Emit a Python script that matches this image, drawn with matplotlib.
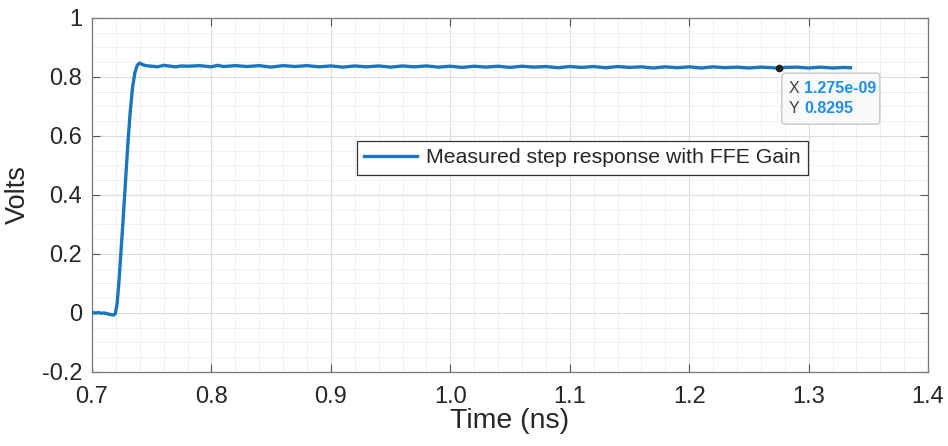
import numpy as np
import matplotlib
matplotlib.use('Agg')
import matplotlib.pyplot as plt
import matplotlib.transforms as mtransforms
from matplotlib.patches import FancyBboxPatch
from matplotlib.ticker import MultipleLocator

# measured step response (time in ns, volts)
t_rise = [0.700, 0.703, 0.706, 0.708, 0.710, 0.712, 0.714, 0.716, 0.718, 0.7195,
          0.721, 0.7225, 0.724, 0.726, 0.728, 0.730, 0.732, 0.734, 0.736, 0.738,
          0.740, 0.742, 0.745]
v_rise = [0.001, 0.000, 0.001, -0.001, 0.000, -0.002, -0.004, -0.006, -0.007, -0.003,
          0.030, 0.100, 0.190, 0.310, 0.440, 0.570, 0.680, 0.765, 0.815, 0.840,
          0.847, 0.842, 0.838]
t_flat = [0.75, 0.755, 0.76, 0.77, 0.775, 0.78, 0.79, 0.80, 0.805, 0.81, 0.82, 0.83, 0.84,
          0.85, 0.86, 0.87, 0.88, 0.89, 0.90, 0.91, 0.92, 0.93, 0.94,
          0.95, 0.96, 0.97, 0.98, 0.99, 1.00, 1.01, 1.02, 1.03, 1.04,
          1.05, 1.06, 1.07, 1.08, 1.09, 1.10, 1.11, 1.12, 1.13, 1.14,
          1.15, 1.16, 1.17, 1.18, 1.19, 1.20, 1.21, 1.22, 1.23, 1.24,
          1.25, 1.26, 1.27, 1.275, 1.28, 1.29, 1.30, 1.31, 1.32, 1.33, 1.335]
v_flat = [0.836, 0.834, 0.839, 0.834, 0.837, 0.836, 0.838, 0.834, 0.839, 0.835, 0.838, 0.835, 0.838,
          0.833, 0.838, 0.835, 0.838, 0.834, 0.837, 0.833, 0.837, 0.834, 0.837,
          0.833, 0.837, 0.834, 0.837, 0.833, 0.836, 0.832, 0.836, 0.833, 0.836,
          0.832, 0.836, 0.833, 0.835, 0.831, 0.835, 0.832, 0.835, 0.831, 0.835,
          0.832, 0.834, 0.830, 0.834, 0.831, 0.834, 0.830, 0.834, 0.831, 0.833,
          0.830, 0.833, 0.831, 0.8295, 0.832, 0.833, 0.830, 0.833, 0.830, 0.832, 0.831]
time_ns = t_rise + t_flat
volts = v_rise + v_flat

tip_x = 1.275
tip_y = 0.8295
x_ticks = [0.7, 0.8, 0.9, 1.0, 1.1, 1.2, 1.3, 1.4]
x_labels = ['0.7', '0.8', '0.9', '1.0', '1.1', '1.2', '1.3', '1.4']
y_ticks = [-0.2, 0, 0.2, 0.4, 0.6, 0.8, 1]
y_labels = ['-0.2', '0', '0.2', '0.4', '0.6', '0.8', '1']

plt.rcParams['font.family'] = ['Liberation Sans', 'DejaVu Sans']
txt = '#262626'

fig = plt.figure(figsize=(9.48, 4.46), dpi=100)
ax = fig.add_axes([0.097, 0.166, 0.882, 0.794])

ax.plot(time_ns, volts, color='#1a76bd', lw=2.4,
        label='Measured step response with FFE Gain', zorder=3)

ax.set_xlim(0.7, 1.4)
ax.set_ylim(-0.2, 1.0)
ax.set_xticks(x_ticks)
ax.set_xticklabels(x_labels)
ax.set_yticks(y_ticks)
ax.set_yticklabels(y_labels)
ax.xaxis.set_minor_locator(MultipleLocator(0.02))
ax.yaxis.set_minor_locator(MultipleLocator(0.05))

ax.grid(which='major', color='#dcdcdc', lw=0.8)
ax.grid(which='minor', color='#eeeeee', lw=0.6)
ax.set_axisbelow(True)
ax.tick_params(which='major', direction='in', length=6, width=0.8, color='#555555',
               top=True, right=True, labelsize=17, labelcolor=txt)
ax.tick_params(axis='x', which='major', pad=10)
ax.tick_params(axis='y', which='major', pad=7)
ax.tick_params(which='minor', length=0, top=True, right=True)
for s in ax.spines.values():
    s.set_color('#777777')
    s.set_linewidth(0.9)

ax.set_xlabel('Time (ns)', fontsize=20.5, color=txt, labelpad=0)
ax.set_ylabel('Volts', fontsize=19.5, color=txt, labelpad=8)

leg = ax.legend(loc='center left', bbox_to_anchor=(0.304, 0.605), fontsize=15.3,
                frameon=True, fancybox=False, framealpha=1, edgecolor='#333333',
                handlelength=2.5, handletextpad=0.4, borderpad=0.35)
leg.get_frame().set_linewidth(0.9)
for tx in leg.get_texts():
    tx.set_color(txt)

# data tip
ax.plot([tip_x], [tip_y], 'o', color='#222222', ms=4.5, zorder=5)
tr = fig.dpi_scale_trans + mtransforms.ScaledTranslation(tip_x, tip_y, ax.transData)
box = FancyBboxPatch((0.03, -0.56), 0.98, 0.51, boxstyle='round,pad=0,rounding_size=0.03',
                     transform=tr, facecolor='#f8f9fb', edgecolor='#c8c8c8', lw=1,
                     zorder=6, clip_on=False)
ax.add_patch(box)
ax.text(0.10, -0.20, 'X', transform=tr, fontsize=11.5, color='#404040', va='center', zorder=7)
ax.text(0.255, -0.20, '1.275e-09', transform=tr, fontsize=11.5, color='#1e90e8',
        fontweight='bold', va='center', zorder=7)
ax.text(0.10, -0.40, 'Y', transform=tr, fontsize=11.5, color='#404040', va='center', zorder=7)
ax.text(0.255, -0.40, '0.8295', transform=tr, fontsize=11.5, color='#1e90e8',
        fontweight='bold', va='center', zorder=7)

fig.savefig('out.png', dpi=100)
